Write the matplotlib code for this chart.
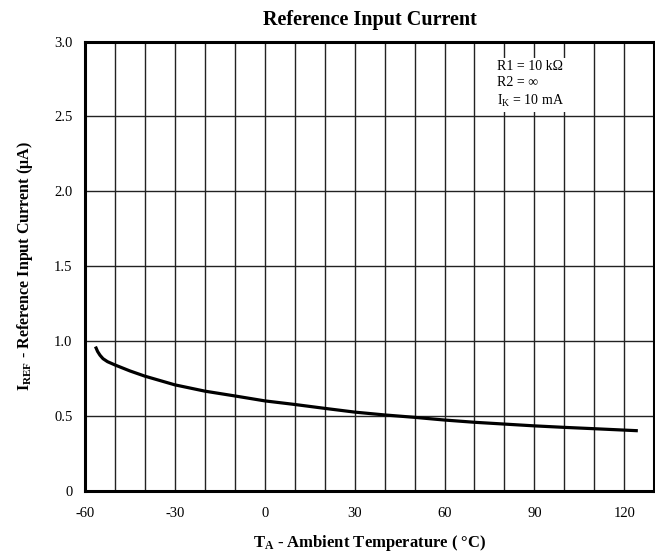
import matplotlib
matplotlib.use('Agg')
import matplotlib.pyplot as plt

plt.rcParams['font.family'] = ['Liberation Serif', 'DejaVu Serif']
plt.rcParams['mathtext.fontset'] = 'custom'
plt.rcParams['mathtext.rm'] = 'Liberation Serif'
plt.rcParams['mathtext.bf'] = 'Liberation Serif:bold'
plt.rcParams['mathtext.it'] = 'Liberation Serif:italic'

# curve
temp = [-56.3, -55.8, -55.0, -54.0, -52.5, -50, -45, -40, -30, -20, -10, 0, 10,
        20, 30, 40, 50, 60, 70, 80, 90, 100, 110, 124]
iref = [0.953, 0.930, 0.905, 0.882, 0.862, 0.840, 0.80, 0.765, 0.707, 0.665,
        0.633, 0.600, 0.576, 0.550, 0.525, 0.506, 0.490, 0.472, 0.457, 0.445,
        0.433, 0.423, 0.414, 0.401]

xticks = [-60, -30, 0, 30, 60, 90, 120]
xtick_labels = ['-60', '-30', '0', '30', '60', '90', '120']
yticks = [0, 0.5, 1.0, 1.5, 2.0, 2.5, 3.0]
ytick_labels = ['0', '0.5', '1.0', '1.5', '2.0', '2.5', '3.0']

fig = plt.figure(figsize=(6.55, 5.54), dpi=100)
ax = fig.add_axes([0.1298, 0.1143, 0.869, 0.8105])

ax.set_xlim(-60, 130)
ax.set_ylim(0, 3.0)

# grid every 10 deg and every 0.5 uA
for xv in range(-50, 130, 10):
    ax.axvline(xv, color='#222222', lw=1.0, zorder=1)
for yv in [0.5, 1.0, 1.5, 2.0, 2.5]:
    ax.axhline(yv, color='#222222', lw=1.0, zorder=1)

ax.plot(temp, iref, color='black', lw=2.3, zorder=3, solid_joinstyle='round')

ax.set_xticks(xticks)
ax.set_xticklabels(xtick_labels)
ax.set_yticks(yticks)
ax.set_yticklabels(ytick_labels)
ax.tick_params(length=0, labelsize=10.5)
ax.tick_params(axis='y', pad=9)
ax.tick_params(axis='x', pad=12)

for s in ax.spines.values():
    s.set_linewidth(2.2)

ax.set_title('Reference Input Current', fontsize=14.5, fontweight='bold', pad=12)
ax.set_xlabel('T$_\\mathbf{A}$ - Ambient Temperature ( °C)', fontsize=12,
              fontweight='bold', labelpad=9)
ax.set_ylabel('I$_\\mathbf{REF}$ - Reference Input Current (μA)', fontsize=11.5,
              fontweight='bold', labelpad=14)

ax.text(77.5, 2.88, 'R1 = 10 kΩ\nR2 = ∞\nI$_\\mathrm{K}$ = 10 mA', fontsize=10,
        va='top', ha='left', linespacing=1.35, zorder=4,
        bbox=dict(facecolor='white', edgecolor='none', pad=2))

fig.savefig('out.png', dpi=100)
